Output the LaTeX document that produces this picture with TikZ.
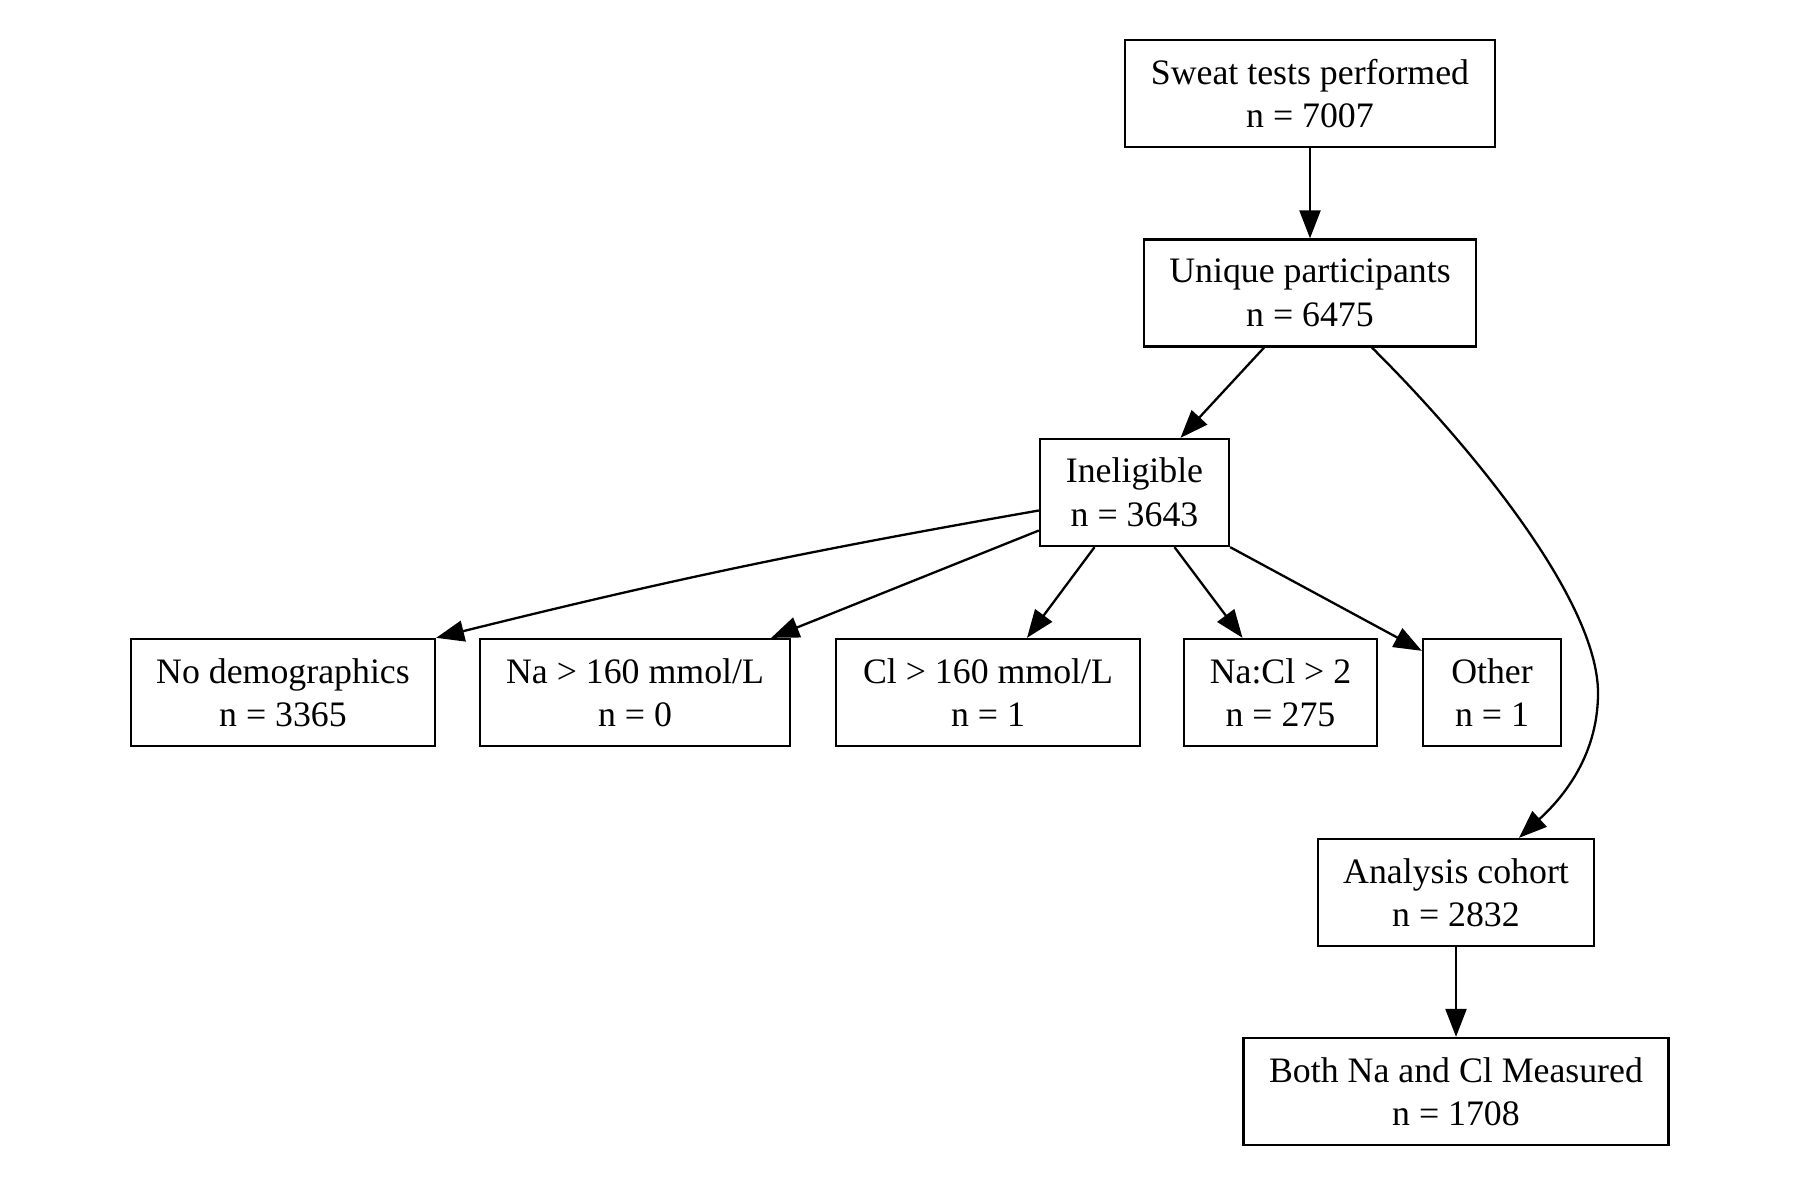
\documentclass[tikz,border=0pt]{standalone}
\usepackage{fontspec}
\setmainfont{Liberation Serif}
\usetikzlibrary{arrows.meta}
\begin{document}
\begin{tikzpicture}[x=1pt,y=1pt,
  box/.style={draw=black, line width=2.3pt, rectangle, align=center, inner sep=0pt,
    minimum height=107pt, font=\fontsize{35.8}{43.5}\selectfont},
  link/.style={line width=2.3pt, -{Triangle[length=28pt,width=21pt]}}]
\useasboundingbox (0,0) rectangle (1796,-1182);

% boxes
\node[box, minimum width=370pt] (sweat)    at (1310,-93.5)   {Sweat tests performed\\n = 7007};
\node[box, minimum width=332pt] (unique)   at (1310,-293)    {Unique participants\\n = 6475};
\node[box, minimum width=189pt] (inelig)   at (1134.5,-492.5){Ineligible\\n = 3643};
\node[box, minimum width=304pt] (nodemo)   at (283,-692.5)   {No demographics\\n = 3365};
\node[box, minimum width=310pt] (na)       at (635,-692.5)   {Na > 160 mmol/L\\n = 0};
\node[box, minimum width=304pt] (cl)       at (988,-692.5)   {Cl > 160 mmol/L\\n = 1};
\node[box, minimum width=193pt] (ratio)    at (1280.5,-692.5){Na:Cl > 2\\n = 275};
\node[box, minimum width=138pt] (other)    at (1492,-692.5)  {Other\\n = 1};
\node[box, minimum width=276pt] (analysis) at (1456,-892.5)  {Analysis cohort\\n = 2832};
\node[box, minimum width=425pt] (both)     at (1456,-1091.5) {Both Na and Cl Measured\\n = 1708};

% connectors
\draw[link] (sweat.south) -- (unique.north);
\draw[link] ([xshift=-46pt]unique.south) -- ([xshift=46pt]inelig.north);
\draw[link] ([xshift=62pt]unique.south)
  .. controls (1470,-445) and (1598,-600) .. (1598,-693)
  .. controls (1598,-760) and (1558,-802) .. ([xshift=63pt]analysis.north);
\draw[link] ([yshift=-18pt]inelig.west) to[bend right=2] (nodemo.north east);
\draw[link] ([yshift=-38pt]inelig.west) -- ([xshift=-20pt]na.north east);
\draw[link] ([xshift=-40pt]inelig.south) -- ([xshift=39pt]cl.north);
\draw[link] ([xshift=40pt]inelig.south) -- ([xshift=-38pt]ratio.north);
\draw[link] (inelig.south east) -- ([yshift=-13pt]other.north west);
\draw[link] (analysis.south) -- (both.north);
\end{tikzpicture}
\end{document}
